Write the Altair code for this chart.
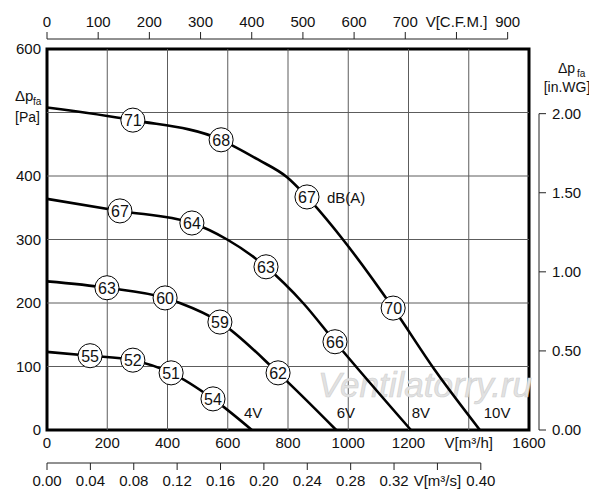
import altair as alt
import pandas as pd

FONT = "Liberation Sans"
W, H = 482, 381

# ---- fan curves: V [m3/h] vs dp_fa [Pa] ----
speeds = ["4V", "6V", "8V", "10V"]
flow_4v = [0, 143, 285, 412, 551, 680]
pa_4v = [123, 117, 110, 90, 49, 0]
flow_6v = [0, 199, 392, 441, 574, 767, 960]
pa_6v = [234, 224, 208, 200, 170, 90, 0]
flow_8v = [0, 242, 481, 598, 727, 850, 956, 1208]
pa_8v = [364, 345, 326, 300, 257, 200, 139, 0]
flow_10v = [0, 285, 578, 624, 700, 797, 863, 979, 1149, 1288, 1437]
pa_10v = [508, 488, 457, 446, 426, 398, 367, 302, 192, 94, 0]

# ---- sound levels dB(A) on the curves ----
db_flow = [143, 285, 412, 551, 199, 392, 574, 767, 242, 481, 727, 956, 285, 578, 863, 1149]
db_pa = [117, 110, 90, 49, 224, 208, 170, 90, 345, 326, 257, 139, 488, 457, 367, 192]
db_text = ["55", "52", "51", "54", "63", "60", "59", "62", "67", "64", "63", "66", "71", "68", "67", "70"]

# ---- speed labels ----
speed_flow = [684, 992, 1241, 1494]
speed_pa = [27, 27, 27, 27]

# ---- axes ----
x_ticks = [0, 200, 400, 600, 800, 1000, 1200, 1400, 1600]
y_ticks = [0, 100, 200, 300, 400, 500, 600]
cfm_ticks = [0, 100, 200, 300, 400, 500, 600, 700, 800, 900]
m3s_ticks = [0.00, 0.04, 0.08, 0.12, 0.16, 0.20, 0.24, 0.28, 0.32, 0.36, 0.40]
inwg_ticks = [0.0, 0.5, 1.0, 1.5, 2.0]

CFM_TO_M3H = 1.69901
M3S_TO_M3H = 3600.0
INWG_TO_PA = 249.089

rows = []
for name, fl, pa in zip(speeds, [flow_4v, flow_6v, flow_8v, flow_10v], [pa_4v, pa_6v, pa_8v, pa_10v]):
    for i, (f, p) in enumerate(zip(fl, pa)):
        rows.append({"speed": name, "flow": f, "pa": p, "order": i})
curves = pd.DataFrame(rows)
dbdf = pd.DataFrame({"flow": db_flow, "pa": db_pa, "db": db_text})
speeddf = pd.DataFrame({"flow": speed_flow, "pa": speed_pa, "speed": speeds})

xscale = alt.Scale(domain=[0, 1600], nice=False, zero=False)
yscale = alt.Scale(domain=[0, 600], nice=False, zero=False)


def X(field):
    return alt.X(field, scale=xscale, axis=None)


def Y(field):
    return alt.Y(field, scale=yscale, axis=None)


GRID = "#5c5c5c"
TXT = "#111111"

# grid
vgrid = alt.Chart(pd.DataFrame({"v": x_ticks[1:-1]})).transform_calculate(
    lo="0", hi="600"
).mark_rule(color=GRID, strokeWidth=1).encode(x=X("v:Q"), y=Y("lo:Q"), y2="hi:Q")
hgrid = alt.Chart(pd.DataFrame({"v": y_ticks[1:-1]})).transform_calculate(
    lo="0", hi="1600"
).mark_rule(color=GRID, strokeWidth=1).encode(y=Y("v:Q"), x=X("lo:Q"), x2="hi:Q")

# primary axis labels
xlab = alt.Chart(pd.DataFrame({"v": x_ticks})).transform_calculate(
    lab="datum.v == 1400 ? 'V[m³/h]' : format(datum.v, 'd')"
).mark_text(font=FONT, fontSize=15, color=TXT, baseline="middle", align="center").encode(
    x=X("v:Q"), y=alt.value(H + 13), text="lab:N")
ylab = alt.Chart(pd.DataFrame({"v": y_ticks})).transform_filter("datum.v != 500").transform_calculate(
    lab="format(datum.v, 'd')"
).mark_text(font=FONT, fontSize=15, color=TXT, baseline="middle", align="right").encode(
    y=Y("v:Q"), x=alt.value(-6), text="lab:N")

watermark = alt.Chart(pd.DataFrame({"t": ["Ventilatorry.ru"]})).mark_text(
    font=FONT, fontSize=35, fontStyle="italic", color="#e2e2e2", stroke="#d0d0d0", strokeWidth=0.6,
    align="center", baseline="middle"
).encode(x=alt.value(378), y=alt.value(337), text="t:N")

lines = alt.Chart(curves).mark_line(color="black", strokeWidth=2.6, interpolate="monotone").encode(
    x=X("flow:Q"), y=Y("pa:Q"), detail="speed:N", order="order:Q")

circles = alt.Chart(dbdf).mark_circle(size=580, color="white", stroke="black", strokeWidth=1, opacity=1).encode(
    x=X("flow:Q"), y=Y("pa:Q"))
circle_text = alt.Chart(dbdf).mark_text(font=FONT, fontSize=16, color=TXT, baseline="middle", align="center", dy=1).encode(
    x=X("flow:Q"), y=Y("pa:Q"), text="db:N")
dba = alt.Chart(dbdf.iloc[[14]]).mark_text(font=FONT, fontSize=15, color=TXT, align="left", baseline="middle", dx=20, dy=1).encode(
    x=X("flow:Q"), y=Y("pa:Q"), text=alt.value("dB(A)"))
speed_text = alt.Chart(speeddf).mark_text(font=FONT, fontSize=15, color=TXT, align="center", baseline="middle").encode(
    x=X("flow:Q"), y=Y("pa:Q"), text="speed:N")

# top C.F.M. axis
cfm_base = alt.Chart(pd.DataFrame({"cfm": cfm_ticks})).transform_calculate(
    xpos=f"datum.cfm * {CFM_TO_M3H}",
    lab="datum.cfm == 800 ? 'V[C.F.M.]' : format(datum.cfm, 'd')",
)
cfm_ticks_l = cfm_base.mark_rule(color="#222", strokeWidth=1).encode(
    x=X("xpos:Q"), y=alt.value(-10), y2=alt.value(-17))
cfm_labels = cfm_base.mark_text(font=FONT, fontSize=15, color=TXT, baseline="middle").encode(
    x=X("xpos:Q"), y=alt.value(-27), text="lab:N")
cfm_line = alt.Chart(pd.DataFrame({"a": [0], "b": [max(cfm_ticks)]})).transform_calculate(
    x1="datum.a", x2=f"datum.b * {CFM_TO_M3H}"
).mark_rule(color="#222", strokeWidth=1).encode(x=X("x1:Q"), x2="x2:Q", y=alt.value(-10))

# bottom m3/s axis
m3s_base = alt.Chart(pd.DataFrame({"v": m3s_ticks})).transform_calculate(
    xpos=f"datum.v * {M3S_TO_M3H}",
    lab="abs(datum.v - 0.36) < 0.001 ? 'V[m³/s]' : format(datum.v, '.2f')",
)
m3s_ticks_l = m3s_base.mark_rule(color="#222", strokeWidth=1).encode(
    x=X("xpos:Q"), y=alt.value(H + 33), y2=alt.value(H + 40))
m3s_labels = m3s_base.mark_text(font=FONT, fontSize=15, color=TXT, baseline="middle").encode(
    x=X("xpos:Q"), y=alt.value(H + 51), text="lab:N")
m3s_line = alt.Chart(pd.DataFrame({"a": [0], "b": [max(m3s_ticks)]})).transform_calculate(
    x1="datum.a", x2=f"datum.b * {M3S_TO_M3H}"
).mark_rule(color="#222", strokeWidth=1).encode(x=X("x1:Q"), x2="x2:Q", y=alt.value(H + 33))

# right in.WG axis
inwg_base = alt.Chart(pd.DataFrame({"v": inwg_ticks})).transform_calculate(
    ypos=f"datum.v * {INWG_TO_PA}",
    lab="format(datum.v, '.2f')",
)
inwg_ticks_l = inwg_base.mark_rule(color="#222", strokeWidth=1).encode(
    y=Y("ypos:Q"), x=alt.value(W + 10), x2=alt.value(W + 17))
inwg_labels = inwg_base.mark_text(font=FONT, fontSize=15, color=TXT, align="left", baseline="middle").encode(
    y=Y("ypos:Q"), x=alt.value(W + 23), text="lab:N")
inwg_line = alt.Chart(pd.DataFrame({"a": [0], "b": [max(inwg_ticks)]})).transform_calculate(
    y1="datum.a", y2=f"datum.b * {INWG_TO_PA}"
).mark_rule(color="#222", strokeWidth=1).encode(y=Y("y1:Q"), y2="y2:Q", x=alt.value(W + 10))


def txt(s, x, y, size=15, align="left"):
    return alt.Chart(pd.DataFrame({"t": [s]})).mark_text(
        font=FONT, fontSize=size, color=TXT, align=align, baseline="middle"
    ).encode(x=alt.value(x), y=alt.value(y), text="t:N")


titles = [
    txt("Δp", -32, 47, size=15), txt("fa", -14, 53, size=10), txt("[Pa]", -32, 69, size=14),
    txt("Δp", 511, 20, size=14), txt("fa", 530, 25, size=10), txt("[in.WG]", 520, 39, size=14, align="center"),
]

chart = alt.layer(
    vgrid, hgrid, watermark, xlab, ylab, lines, circles, circle_text, dba, speed_text,
    cfm_line, cfm_ticks_l, cfm_labels,
    m3s_line, m3s_ticks_l, m3s_labels,
    inwg_line, inwg_ticks_l, inwg_labels,
    *titles,
).properties(
    width=W, height=H,
    autosize=alt.AutoSizeParams(type="none"),
    padding={"left": 39, "top": 41, "right": 60, "bottom": 60},
    background="white",
).configure_view(stroke="black", strokeWidth=3)

chart.save("out.html", embed_options={"renderer": "svg", "actions": False})
